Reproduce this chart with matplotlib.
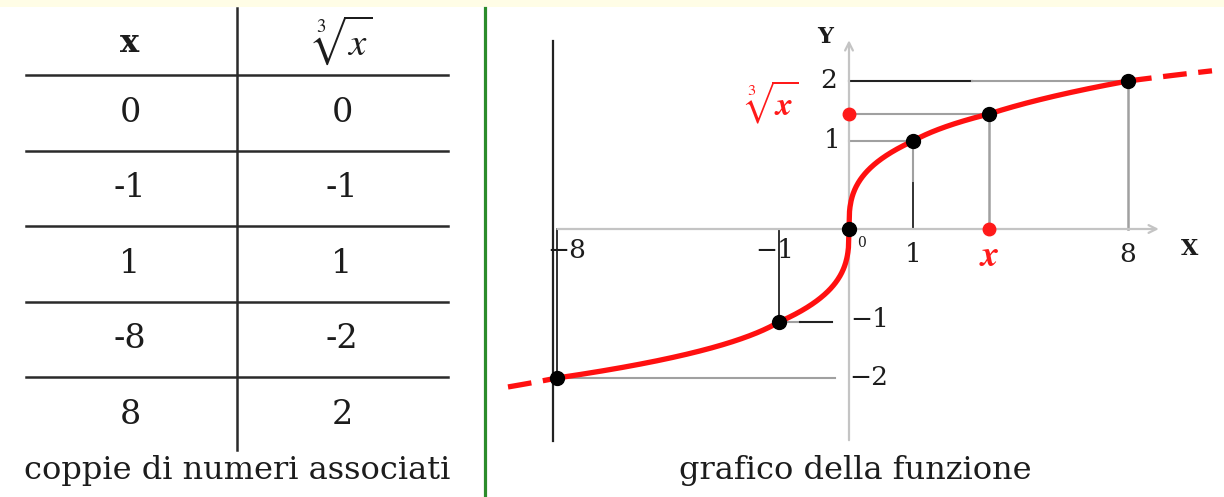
import numpy as np
import matplotlib
matplotlib.use("Agg")
import matplotlib.pyplot as plt
from matplotlib.lines import Line2D
from matplotlib.patches import Rectangle

# ---------------- data ----------------
table_x = ["0", "-1", "1", "-8", "8"]
table_cbrt = ["0", "-1", "1", "-2", "2"]
table_header = ["x", r"$\sqrt[3]{x}$"]
point_x = [0, -1, 1, -8, 8]
point_y = [0, -1, 1, -2, 2]
general_x = 3.375          # the generic "x" on the axis
general_y = 1.5            # its cube root
x_tick_vals = [-8, -1, 1, 8]
x_tick_text = ["\u22128", "\u22121", "1", "8"]
y_tick_vals = [2, 1, -1, -2]
y_tick_text = ["2", "1", "\u22121", "\u22122"]
caption_left = "coppie di numeri associati"
caption_right = "grafico della funzione"

W, H = 1224, 497
SERIF = ["DejaVu Serif", "Liberation Serif"]
plt.rcParams["mathtext.fontset"] = "stix"
TXT = "#1c1c1c"

fig = plt.figure(figsize=(W / 100, H / 100), dpi=100)
fig.patch.set_facecolor("white")
fig.patches.append(Rectangle((0, 1 - 7 / H), 1, 7 / H, transform=fig.transFigure,
                             facecolor="#fffde6", edgecolor="none"))
fig.add_artist(Line2D([485 / W, 485 / W], [0, 1 - 8 / H], color="#2b8c2b", lw=2.3))

# ---------------- left: table ----------------
tax = fig.add_axes([0, 0, 490 / W, 1])
tax.set_xlim(0, 490)
tax.set_ylim(H, 0)
tax.axis("off")
col_c = [130, 342]
row_top = 75
row_h = 75.5
tax.plot([237, 237], [8, 450], color="#2a2a2a", lw=1.8)
for i in range(5):
    yb = row_top + i * row_h
    tax.plot([26, 448], [yb, yb], color="#2a2a2a", lw=1.8)
tax.text(col_c[0], 44, table_header[0], ha="center", va="center", fontsize=23,
         family=SERIF, fontweight="bold", color=TXT)
tax.text(col_c[1], 40, table_header[1], ha="center", va="center", fontsize=28, color=TXT)
for i, (a, b) in enumerate(zip(table_x, table_cbrt)):
    yc = row_top + (i + 0.5) * row_h
    tax.text(col_c[0], yc, a, ha="center", va="center", fontsize=24, family=SERIF, color=TXT)
    tax.text(col_c[1], yc, b, ha="center", va="center", fontsize=24, family=SERIF, color=TXT)
tax.text(237, 471, caption_left, ha="center", va="center", fontsize=23, family=SERIF, color=TXT)

# ---------------- right: graph (non-uniform drawing scales) ----------------
XA = np.array([-40, -10, -8, -1, 0, 1, 3.375, 8, 10, 40], float)
XP = np.array([-242, 508, 557, 779, 849, 913, 989, 1128, 1212, 2472], float)
YA = np.array([-20, -3, -2, -1, 0, 1, 1.5, 2, 3, 20], float)
YP = -np.array([1422, 436, 378, 322, 229, 141, 114, 81, 15, -1107], float)


def fx(v):
    return np.interp(np.asarray(v, float), XA, XP)


def ix(p):
    return np.interp(np.asarray(p, float), XP, XA)


def fy(v):
    return np.interp(np.asarray(v, float), YA, YP)


def iy(p):
    return np.interp(np.asarray(p, float), YP, YA)


ax = fig.add_axes([490 / W, 0, (W - 490) / W, 1])
ax.set_xscale("function", functions=(fx, ix))
ax.set_yscale("function", functions=(fy, iy))
ax.set_xlim(float(ix(490)), float(ix(W)))
ax.set_ylim(float(iy(-H)), float(iy(0)))
ax.axis("off")
ax.patch.set_alpha(0)

GRAY = "#a0a0a0"
BLK = "#222222"
AXC = "#c4c4c4"

# axes with arrows
ax.annotate("", xy=(8.8, 0), xytext=(-8.1, 0),
            arrowprops=dict(arrowstyle="->", color=AXC, lw=1.6, mutation_scale=14))
ax.annotate("", xy=(0, 2.66), xytext=(0, -3.12),
            arrowprops=dict(arrowstyle="->", color=AXC, lw=1.6, mutation_scale=14))
# left frame line
ax.plot([-8.16, -8.16], [-3.08, 2.6], color=BLK, lw=1.6)

# guide lines
ax.plot([0, 2.85], [2, 2], color=BLK, lw=1.5)
ax.plot([2.85, 8], [2, 2], color=GRAY, lw=1.5)
ax.plot([8, 8], [0, 2], color=GRAY, lw=1.8)
ax.plot([0, general_x], [general_y, general_y], color=GRAY, lw=1.5)
ax.plot([general_x, general_x], [0, general_y], color=GRAY, lw=1.8)
ax.plot([0, 1], [1, 1], color=GRAY, lw=1.5)
ax.plot([1, 1], [0, 0.55], color=BLK, lw=1.3)
ax.plot([1, 1], [0.55, 1], color=GRAY, lw=1.5)
ax.plot([-1, -1], [-1, 0.0], color=BLK, lw=1.3)
ax.plot([-1, -0.7], [-1, -1], color=GRAY, lw=1.5)
ax.plot([-0.7, -0.25], [-1, -1], color=BLK, lw=1.5)
ax.plot([-8, -0.2], [-2, -2], color=GRAY, lw=1.5)
ax.plot([-8, -8], [-2, 0], color=BLK, lw=1.3)

# the function curve
xs = np.linspace(-8, 8, 2001)
ax.plot(xs, np.cbrt(xs), color="#ff1010", lw=3.8, solid_capstyle="butt", zorder=4)
xl = np.linspace(-10, -8, 50)
xr = np.linspace(8, 10, 50)
ax.plot(xl, np.cbrt(xl), color="#ff1010", lw=3.8, dashes=(4.5, 2.2), zorder=4)
ax.plot(xr, np.cbrt(xr), color="#ff1010", lw=3.8, dashes=(4.5, 2.2), zorder=4)

# points
ax.plot(point_x, point_y, "o", color="black", ms=10, zorder=6)
ax.plot([general_x], [general_y], "o", color="black", ms=10, zorder=6)
ax.plot([0, general_x], [general_y, 0], "o", color="#ff1a1a", ms=9, zorder=7)

# tick labels
x_offsets = [(10, -22), (-4, -21), (0, -26), (0, -26)]
for v, t, off in zip(x_tick_vals, x_tick_text, x_offsets):
    ax.annotate(t, xy=(v, 0), xytext=off, textcoords="offset pixels",
                ha="center", va="center", fontsize=19, family=SERIF, color=TXT)
ax.annotate("0", xy=(0, 0), xytext=(13, -14), textcoords="offset pixels",
            ha="center", va="center", fontsize=10, family=SERIF, color=TXT)
ax.annotate(r"$\boldsymbol{x}$", xy=(general_x, 0), xytext=(0, -27), textcoords="offset pixels",
            ha="center", va="center", fontsize=26, color="#ff1a1a")
y_offsets = [(-20, 1), (-17, 1), (21, 2), (20, 0)]
for v, t, off in zip(y_tick_vals, y_tick_text, y_offsets):
    ax.annotate(t, xy=(0, v), xytext=off, textcoords="offset pixels",
                ha="center", va="center", fontsize=19, family=SERIF, color=TXT)
ax.annotate(r"$\sqrt[3]{\boldsymbol{x}}$", xy=(0, general_y), xytext=(-78, 12),
            textcoords="offset pixels", ha="center", va="center", fontsize=24, color="#ff1a1a")
ax.annotate("X", xy=(8, 0), xytext=(62, -20), textcoords="offset pixels",
            ha="center", va="center", fontsize=16, family=SERIF, fontweight="bold", color=TXT)
ax.annotate("Y", xy=(0, 2.6), xytext=(-24, 4), textcoords="offset pixels",
            ha="center", va="center", fontsize=16, family=SERIF, fontweight="bold", color=TXT)

fig.text(855 / W, 1 - 471 / H, caption_right, ha="center", va="center", fontsize=23,
         family=SERIF, color=TXT)

fig.savefig("out.png", dpi=100)
